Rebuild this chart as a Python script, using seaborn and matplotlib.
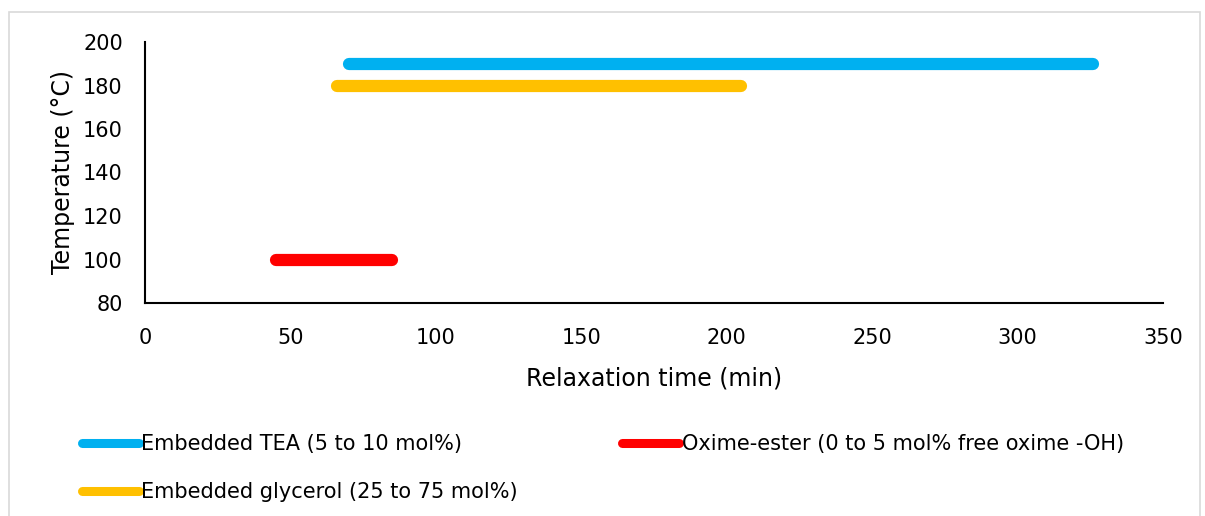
import matplotlib
matplotlib.use("Agg")
import matplotlib.pyplot as plt
import seaborn as sns
import pandas as pd
from matplotlib.lines import Line2D
from matplotlib.patches import Rectangle

# relaxation windows
series = ["Embedded TEA (5 to 10 mol%)",
          "Embedded glycerol (25 to 75 mol%)",
          "Oxime-ester (0 to 5 mol% free oxime -OH)"]
t_start = [70, 66, 45]
t_end = [326, 205, 85]
temperature = [190, 180, 100]
colors = ["#00B0F0", "#FFC000", "#FF0000"]

rows = []
for name, a, b, T in zip(series, t_start, t_end, temperature):
    rows.append({"series": name, "time": a, "temp": T})
    rows.append({"series": name, "time": b, "temp": T})
df = pd.DataFrame(rows)

sns.set_style("white")
plt.rcParams["font.family"] = ["DejaVu Sans"]
plt.rcParams["text.color"] = "black"
plt.rcParams["axes.labelcolor"] = "black"

fig = plt.figure(figsize=(12.05, 5.16), dpi=100)
ax = fig.add_axes([145 / 1205, 1 - 303 / 516, (1163 - 145) / 1205, (303 - 42) / 516])

sns.lineplot(data=df, x="time", y="temp", hue="series",
             palette=dict(zip(series, colors)), linewidth=8.8,
             solid_capstyle="round", legend=False, ax=ax)

ax.set_xlim(0, 350)
ax.set_ylim(80, 200)
ax.set_xticks(range(0, 351, 50))
ax.set_yticks(range(80, 201, 20))
ax.tick_params(labelsize=15, length=0, colors="black")
ax.tick_params(axis="x", pad=18)
ax.tick_params(axis="y", pad=16)
ax.set_xlabel("Relaxation time (min)", fontsize=17, labelpad=13)
ax.set_ylabel("Temperature (°C)", fontsize=17, labelpad=6)
sns.despine(ax=ax)
for s in ["left", "bottom"]:
    ax.spines[s].set_color("black")
    ax.spines[s].set_linewidth(1.5)

handles = [Line2D([], [], color=c, linewidth=6.5, solid_capstyle="round") for c in colors]
fig.legend(handles, series, ncol=2, loc="upper left",
           bbox_to_anchor=(82 / 1205, 1 - 434 / 516), frameon=False,
           borderpad=0, borderaxespad=0,
           fontsize=15, handlelength=2.75, handletextpad=0.1,
           columnspacing=5.0, labelspacing=1.35)

fig.patches.append(Rectangle((9 / 1205, -0.1), (1200 - 9) / 1205, 1.1 - 12 / 516,
                             transform=fig.transFigure, fill=False,
                             edgecolor="#d9d9d9", linewidth=1.2))

fig.savefig("out.png", dpi=100)
